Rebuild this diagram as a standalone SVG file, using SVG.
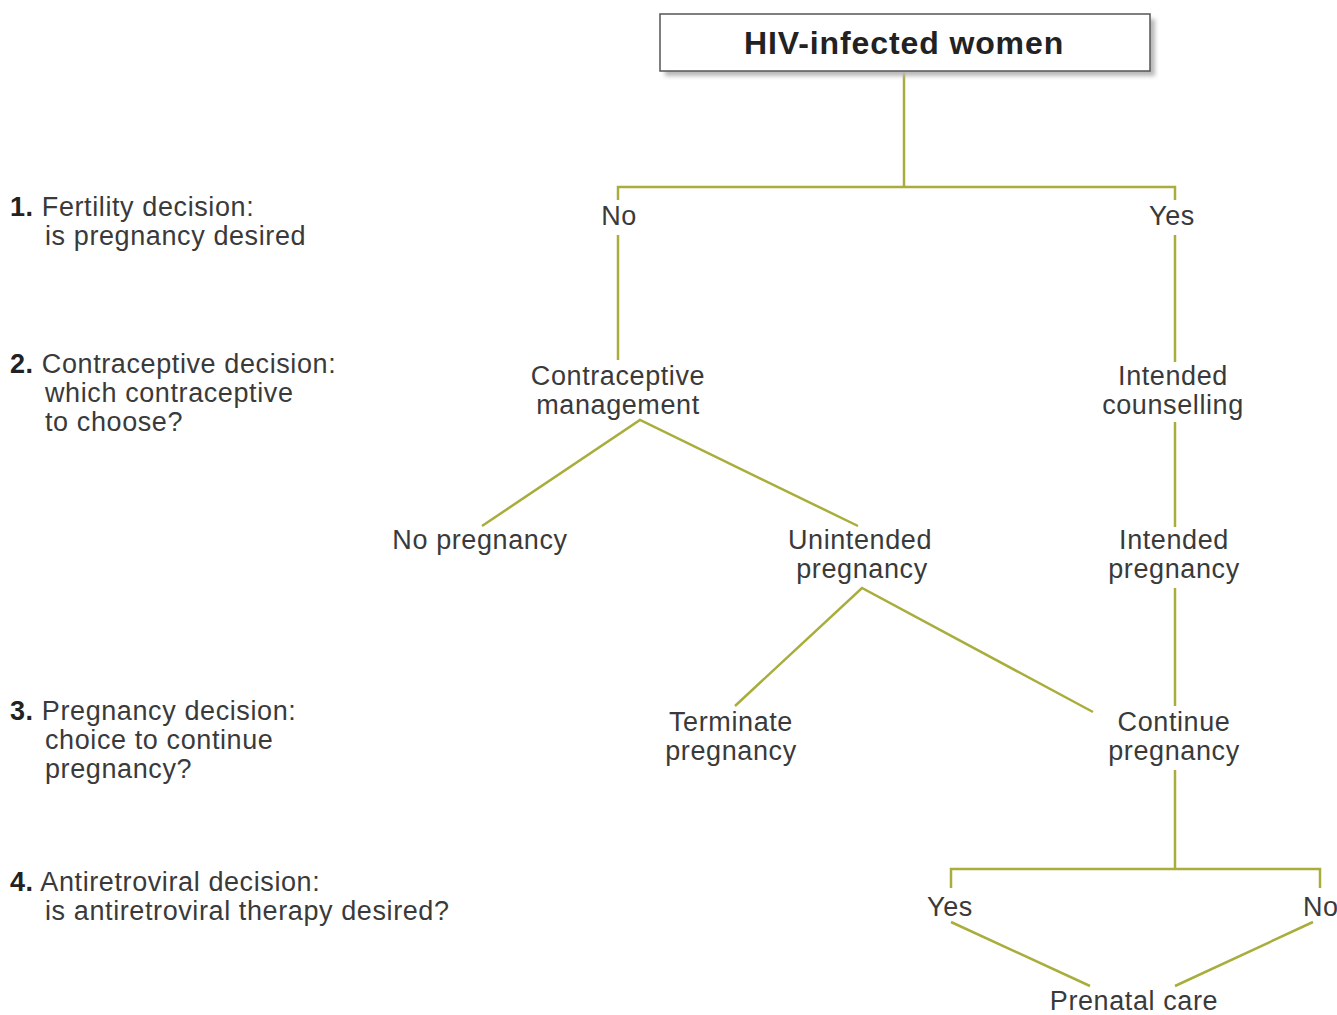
<svg xmlns="http://www.w3.org/2000/svg" width="1337" height="1015" viewBox="0 0 1337 1015">
<defs>
<filter id="sh" x="-10%" y="-30%" width="120%" height="160%"><feGaussianBlur stdDeviation="2"/></filter>
</defs>
<style>
text{font-family:"Liberation Sans",Arial,sans-serif;fill:#3a3a3a;font-size:27px;letter-spacing:0.6px}
.c{text-anchor:middle}
.b{font-weight:bold;fill:#222}
.t{font-size:32px;font-weight:bold;fill:#222;letter-spacing:0.9px}
#connectors path{fill:none;stroke:#a9ad3c;stroke-width:2.5}
</style>
<rect width="1337" height="1015" fill="#fff"/>
<g id="connectors">
<path d="M904,71V187M618,200V187H1175V200"/>
<path d="M618,235V360M1175,235V362"/>
<path d="M482,526L640,420L858,526"/>
<path d="M1175,422V527"/>
<path d="M735,706L862,588L1093,712"/>
<path d="M1175,588V706"/>
<path d="M1175,770V869M951,888V869H1320V888"/>
<path d="M951,922L1090,986M1313,922L1175,986"/>
</g>
<g id="root">
<rect x="665" y="19" width="490" height="57" fill="#b8b8b8" filter="url(#sh)"/>
<rect x="660" y="14" width="490" height="57" fill="#fff" stroke="#555" stroke-width="1.5"/>
<text class="t c" x="904" y="54">HIV-infected women</text>
</g>
<g id="step1"><text x="10" y="216"><tspan class="b">1.</tspan> Fertility decision:</text><text x="45" y="245">is pregnancy desired</text></g>
<g id="step2"><text x="10" y="373"><tspan class="b">2.</tspan> Contraceptive decision:</text><text x="45" y="402">which contraceptive</text><text x="45" y="431">to choose?</text></g>
<g id="step3"><text x="10" y="720"><tspan class="b">3.</tspan> Pregnancy decision:</text><text x="45" y="749">choice to continue</text><text x="45" y="778">pregnancy?</text></g>
<g id="step4"><text x="10" y="891"><tspan class="b">4.</tspan> Antiretroviral decision:</text><text x="45" y="920">is antiretroviral therapy desired?</text></g>
<g id="no1"><text class="c" x="619" y="225">No</text></g>
<g id="yes1"><text class="c" x="1172" y="225">Yes</text></g>
<g id="contraceptive"><text class="c" x="618" y="385">Contraceptive</text><text class="c" x="618" y="414">management</text></g>
<g id="counselling"><text class="c" x="1173" y="385">Intended</text><text class="c" x="1173" y="414">counselling</text></g>
<g id="nopreg"><text class="c" x="480" y="549">No pregnancy</text></g>
<g id="unintended"><text class="c" x="860" y="549">Unintended</text><text class="c" x="862" y="578">pregnancy</text></g>
<g id="intended"><text class="c" x="1174" y="549">Intended</text><text class="c" x="1174" y="578">pregnancy</text></g>
<g id="terminate"><text class="c" x="731" y="731">Terminate</text><text class="c" x="731" y="760">pregnancy</text></g>
<g id="continue"><text class="c" x="1174" y="731">Continue</text><text class="c" x="1174" y="760">pregnancy</text></g>
<g id="yes2"><text class="c" x="950" y="916">Yes</text></g>
<g id="no2"><text x="1303" y="916">No</text></g>
<g id="prenatal"><text class="c" x="1134" y="1010">Prenatal care</text></g>
</svg>
